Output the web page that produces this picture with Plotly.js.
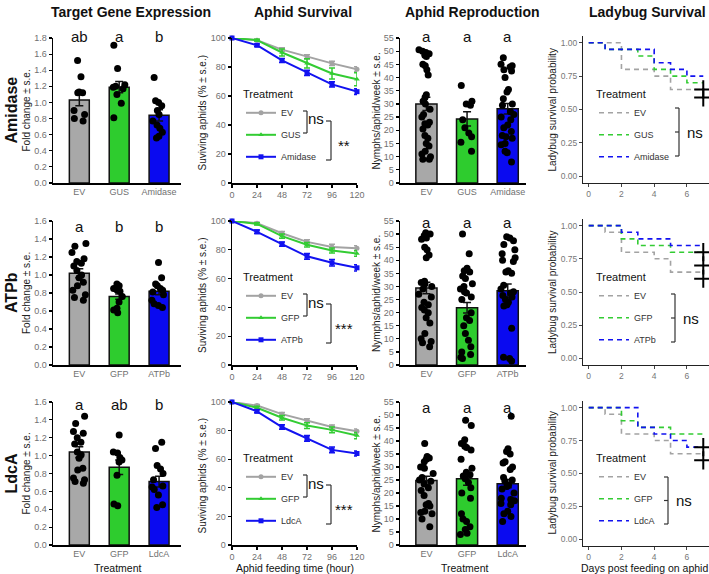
<!DOCTYPE html>
<html>
<head>
<meta charset="utf-8">
<script src="https://cdn.plot.ly/plotly-3.0.1.min.js"></script>
<style>body{margin:0;background:#fff}#vis{width:709px;height:574px}</style>
</head>
<body>
<div id="vis"></div>
<script>
const W = 709, H = 574;
const FONT = 'Liberation Sans, Arial, sans-serif';

// one row per target gene
const genes = ['Amidase', 'ATPb', 'LdcA'];
const cats = [['EV', 'GUS', 'Amidase'], ['EV', 'GFP', 'ATPb'], ['EV', 'GFP', 'LdcA']];
const barColors = ['#a8a8a8', '#2ecc2e', '#0a0af0'];
const lineColors = ['#a3a3a3', '#33cc33', '#1212f0'];

// target gene expression (fold change)
const exprMean = [[1.03, 1.19, 0.84], [1.02, 0.76, 0.82], [1.04, 0.87, 0.71]];
const exprSE = [[0.07, 0.07, 0.07], [0.05, 0.03, 0.04], [0.06, 0.08, 0.06]];
const exprLetters = [['ab', 'a', 'b'], ['a', 'b', 'b'], ['a', 'ab', 'b']];
const exprEV = [
  [1.52, 1.32, 1.13, 1.12, 1.12, 0.90, 0.85, 0.80, 0.77],
  [1.35, 1.32, 1.25, 1.18, 1.15, 1.13, 1.10, 1.05, 1.00, 0.97, 0.92, 0.88, 0.83, 0.78, 0.75, 0.72],
  [1.44, 1.36, 1.27, 1.25, 1.20, 1.15, 1.13, 1.04, 1.01, 0.97, 0.86, 0.84, 0.75, 0.73, 0.71, 0.69]
];
const exprCtrl = [
  [1.71, 1.42, 1.22, 1.20, 1.19, 1.17, 1.10, 0.99, 0.81],
  [0.90, 0.88, 0.85, 0.83, 0.82, 0.76, 0.70, 0.63, 0.61, 0.58],
  [1.23, 1.04, 1.03, 0.98, 0.95, 0.93, 0.78, 0.46, 0.44]
];
const exprGene = [
  [1.31, 1.02, 1.00, 0.96, 0.90, 0.85, 0.77, 0.72, 0.68, 0.63, 0.58, 0.56],
  [1.14, 0.97, 0.90, 0.88, 0.85, 0.83, 0.81, 0.78, 0.72, 0.68, 0.66, 0.64],
  [1.15, 1.08, 0.89, 0.85, 0.80, 0.73, 0.66, 0.65, 0.62, 0.56, 0.45, 0.42]
];

// aphid survival (%)
const hours = [0, 24, 48, 72, 96, 120];
const survEV = [[100, 98.5, 92, 87, 82.5, 78.5], [100, 98.5, 91.5, 85.5, 82, 81], [100, 97.5, 91.5, 87, 82.5, 79.5]];
const survCtrl = [[100, 98.5, 90, 82.5, 75.5, 71.5], [100, 98, 89.5, 83.5, 79.5, 77.5], [100, 96, 89, 83.5, 80.5, 76.5]];
const survGene = [[100, 95, 84.5, 76, 68, 63], [100, 92.5, 84, 75.5, 71, 67.5], [100, 93.5, 82.5, 74.5, 66.5, 64]];
const survEVse = [[0, 0.6, 1.2, 1.4, 1.5, 1.6], [0, 0.6, 1.2, 1.4, 1.8, 1.8], [0, 0.8, 1.2, 1.3, 1.5, 1.6]];
const survCtrlSE = [[0, 0.6, 2.5, 3.2, 3.8, 4.5], [0, 0.8, 1.4, 1.6, 1.8, 2.0], [0, 1.0, 1.5, 2.0, 2.0, 2.2]];
const survGeneSE = [[0, 0.8, 1.4, 1.8, 1.8, 2.0], [0, 1.2, 1.5, 2.0, 2.2, 2.2], [0, 1.0, 1.6, 2.0, 2.0, 1.8]];
const survStars = ['**', '***', '***'];

// aphid reproduction (nymphs/aphid/week)
const reproMean = [[30.0, 24.3, 28.2], [29.4, 21.9, 28.4], [24.8, 25.5, 23.6]];
const reproSE = [[2.5, 2.7, 2.0], [2.2, 2.0, 2.5], [1.6, 2.5, 1.6]];
const reproEV = [
  [50.5, 50, 49.5, 49, 48.5, 48, 45, 44.5, 43, 41, 33.5, 32.5, 31, 30, 28, 26, 25, 23, 22.5, 22, 20.5, 18, 17, 15, 14, 12, 11, 10, 9, 9],
  [50.5, 50, 49.5, 48.5, 48, 45, 44, 42, 41, 32, 31.5, 31, 30, 29, 27, 26, 24, 23, 22, 21, 20, 18, 16, 12, 10, 9, 8.5, 7],
  [39, 34, 33.5, 33, 32, 30, 29.5, 27.5, 26, 25, 24.5, 23.5, 22, 21, 19, 16, 15.5, 15, 13, 12.5, 12, 10, 7]
];
const reproCtrl = [
  [37, 31, 30, 29.5, 24, 21, 19, 17.5, 15.5, 12],
  [50, 42.5, 37, 36, 35.5, 34, 33, 31, 30, 29, 28, 27.5, 26, 25, 20, 18, 17, 15, 12, 9.5, 7, 5, 4, 3, 2.5],
  [48, 46, 40.5, 39, 38, 37.5, 36.5, 33, 29.5, 28, 27, 26.5, 25.5, 24, 22, 20, 18, 12, 10, 9, 7, 6, 4.5, 4]
];
const reproGene = [
  [47.5, 45, 44.5, 44, 43, 42.5, 40, 35.5, 34.5, 32, 30, 29.5, 27, 26, 25, 24, 22, 21, 19.5, 18, 17.5, 17, 15, 14.5, 12, 11.5, 8],
  [49, 48.5, 47.5, 46, 44, 42.5, 41, 40, 39.5, 36, 35.5, 35, 30.5, 29, 28, 27.5, 26.5, 26, 25, 24, 23, 22.5, 14, 3, 2.5, 1.5],
  [49.5, 37, 36, 35, 32, 31.5, 30, 29, 26, 25, 24.5, 23, 22.5, 21.5, 20, 18, 17.5, 17, 16, 15.5, 13, 12, 11, 9]
];

// ladybug survival (Kaplan-Meier steps: day, probability)
const ladyEVday = [[0, 2, 4, 5, 7], [0, 1, 2, 4, 5, 7], [0, 1, 2, 4, 5, 7]];
const ladyEVprob = [[1, 0.8, 0.75, 0.65, 0.65], [1, 0.95, 0.8, 0.75, 0.65, 0.65], [1, 0.95, 0.8, 0.75, 0.65, 0.65]];
const ladyCtrlDay = [[0, 1, 3, 4, 5, 6, 7], [0, 2, 3, 5, 7], [0, 2, 3, 5, 7]];
const ladyCtrlProb = [[1, 0.95, 0.9, 0.8, 0.75, 0.7, 0.7], [1, 0.9, 0.85, 0.8, 0.8], [1, 0.9, 0.85, 0.8, 0.8]];
const ladyGeneDay = [[0, 1, 4, 5, 6, 7], [0, 2, 3, 5, 7], [0, 3, 4, 5, 6, 7]];
const ladyGeneProb = [[1, 0.95, 0.85, 0.8, 0.75, 0.75], [1, 0.95, 0.9, 0.85, 0.85], [1, 0.85, 0.8, 0.75, 0.7, 0.7]];
const ladyCensor = [[0.65, 0.59], [0.8, 0.7, 0.6], [0.7, 0.6]];

// page geometry in pixels
const colX = [[53, 181], [232, 357], [400, 526], [583, 709]];
const rowY = [[38, 183], [221, 365], [402, 545]];
const rowY4 = [[36, 183], [219, 365], [401, 546]];
const rowShift = [0, 183, 364];
const px = x => x / W;
const py = y => 1 - y / H;
const sfx = n => (n === 1 ? '' : String(n));

const traces = [];
const layout = {
  width: W, height: H,
  margin: {l: 0, r: 0, t: 0, b: 0},
  paper_bgcolor: '#fff', plot_bgcolor: 'rgba(0,0,0,0)',
  font: {family: FONT, size: 9, color: '#555'},
  showlegend: true,
  annotations: [],
  shapes: []
};

function prismAxis() {
  return {
    showgrid: false, zeroline: false, showline: true, linecolor: '#000', linewidth: 1.5,
    ticks: 'outside', ticklen: 3, tickwidth: 1.2, tickcolor: '#000',
    tickfont: {family: FONT, size: 9, color: '#707070'}, fixedrange: true
  };
}
function ggAxis() {
  return {
    showgrid: false, zeroline: false, showline: true, linecolor: '#222', linewidth: 1,
    ticks: 'outside', ticklen: 3, tickwidth: 1, tickcolor: '#444',
    tickfont: {family: FONT, size: 8.5, color: '#777'}, fixedrange: true
  };
}
function text(t, x, y, size, opts) {
  layout.annotations.push(Object.assign({
    text: t, x: px(x), y: py(y), xref: 'paper', yref: 'paper', showarrow: false,
    xanchor: 'center', yanchor: 'middle', font: {family: FONT, size: size, color: '#111'}
  }, opts || {}));
}
function seg(x0, y0, x1, y1) {
  layout.shapes.push({type: 'line', xref: 'paper', yref: 'paper',
    x0: px(x0), y0: py(y0), x1: px(x1), y1: py(y1), line: {color: '#333', width: 1.2}});
}
function bracket(x, y0, y1, mid) {
  seg(x - 4, y0, x, y0);
  seg(x, y0, x, y1);
  seg(x - 4, y1, x, y1);
  if (mid) seg(x - 4, (y0 + y1) / 2, x, (y0 + y1) / 2);
}
function legendAt(x, y) {
  return {
    x: px(x), y: py(y), xanchor: 'left', yanchor: 'top', bgcolor: 'rgba(0,0,0,0)',
    font: {family: FONT, size: 9, color: '#333'}, itemwidth: 30, tracegroupgap: 3,
    traceorder: 'grouped', title: {text: 'Treatment', font: {family: FONT, size: 11, color: '#111'}}
  };
}
function letters(n, catsRow, labels, yDom) {
  labels.forEach((t, i) => layout.annotations.push({
    text: t, x: catsRow[i], y: yDom, xref: 'x' + sfx(n), yref: 'y' + sfx(n) + ' domain',
    showarrow: false, yanchor: 'middle', font: {family: FONT, size: 15, color: '#111'}
  }));
}

function barPanel(n, catsRow, means, ses, groups, barWidth) {
  traces.push({
    type: 'bar', x: catsRow, y: means, width: barWidth,
    marker: {color: barColors, line: {color: '#111', width: 1.5}},
    error_y: {type: 'data', array: ses, color: '#111', thickness: 1.5, width: 4},
    xaxis: 'x' + sfx(n), yaxis: 'y' + sfx(n), showlegend: false, hoverinfo: 'skip'
  });
  const xs = [], ys = [];
  groups.forEach((g, i) => g.forEach(v => { xs.push(catsRow[i]); ys.push(v); }));
  traces.push({
    type: 'box', x: xs, y: ys, boxpoints: 'all', jitter: 0.8, pointpos: 0,
    fillcolor: 'rgba(0,0,0,0)', line: {width: 0, color: 'rgba(0,0,0,0)'},
    marker: {color: '#000', size: 7}, xaxis: 'x' + sfx(n), yaxis: 'y' + sfx(n),
    showlegend: false, hoverinfo: 'y'
  });
}

const legendIds = [['legend', 'legend2'], ['legend3', 'legend4'], ['legend5', 'legend6']];
const survSymbols = ['circle', 'triangle-up', 'square'];

for (let r = 0; r < 3; r++) {
  const dy = rowShift[r];
  for (let c = 0; c < 4; c++) {
    const n = r * 4 + c + 1;
    const yb = c === 3 ? rowY4[r] : rowY[r];
    const xa = c === 3 ? ggAxis() : prismAxis();
    const ya = c === 3 ? ggAxis() : prismAxis();
    xa.domain = [px(colX[c][0]), px(colX[c][1])];
    ya.domain = [py(yb[1]), py(yb[0])];
    xa.anchor = 'y' + sfx(n);
    ya.anchor = 'x' + sfx(n);
    if (c === 0) {
      xa.type = 'category'; xa.range = [-0.66, 2.55]; xa.ticks = '';
      ya.range = r === 0 ? [0, 1.8] : [0, 1.6]; ya.dtick = 0.2; ya.tickformat = '.1f';
    } else if (c === 1) {
      xa.range = [0, 120]; xa.tickvals = hours;
      ya.range = [0, 100]; ya.dtick = 20;
    } else if (c === 2) {
      xa.type = 'category'; xa.range = [-0.65, 2.45]; xa.ticks = '';
      ya.range = [0, 55]; ya.dtick = 5;
    } else {
      xa.range = [-0.35, 7.35]; xa.tickvals = [0, 2, 4, 6];
      ya.range = [-0.05, 1.05]; ya.tickvals = [0, 0.25, 0.5, 0.75, 1]; ya.tickformat = '.2f';
    }
    layout['xaxis' + sfx(n)] = xa;
    layout['yaxis' + sfx(n)] = ya;
  }

  // column 1: gene expression
  barPanel(r * 4 + 1, cats[r], exprMean[r], exprSE[r], [exprEV[r], exprCtrl[r], exprGene[r]], 0.5);
  letters(r * 4 + 1, cats[r], exprLetters[r], [1.01, 0.96, 0.98][r]);

  // column 2: aphid survival
  const n2 = r * 4 + 2;
  [[survEV[r], survEVse[r]], [survCtrl[r], survCtrlSE[r]], [survGene[r], survGeneSE[r]]].forEach((s, i) => {
    traces.push({
      type: 'scatter', mode: 'lines+markers', x: hours, y: s[0], name: cats[r][i],
      line: {color: lineColors[i], width: 2}, marker: {symbol: survSymbols[i], size: 5, color: lineColors[i]},
      error_y: {type: 'data', array: s[1], color: lineColors[i], thickness: 1.5, width: 3},
      xaxis: 'x' + sfx(n2), yaxis: 'y' + sfx(n2), cliponaxis: false,
      legend: legendIds[r][0], legendgroup: 's' + r + i
    });
  });
  layout[legendIds[r][0]] = legendAt(241, 84 + dy);
  bracket(307, 111 + dy, 133 + dy, false);
  text('ns', 316, 119 + dy, 15);
  seg(326, 121 + dy, 331, 121 + dy);
  seg(331, 121 + dy, 331, 160 + dy);
  seg(326, 160 + dy, 331, 160 + dy);
  text(survStars[r], 344, 145 + dy, 15);

  // column 3: aphid reproduction
  barPanel(r * 4 + 3, cats[r], reproMean[r], reproSE[r], [reproEV[r], reproCtrl[r], reproGene[r]], 0.52);
  letters(r * 4 + 3, cats[r], ['a', 'a', 'a'], [1.01, 0.99, 0.96][r]);

  // column 4: ladybug survival
  const n4 = r * 4 + 4;
  [[ladyEVday[r], ladyEVprob[r]], [ladyCtrlDay[r], ladyCtrlProb[r]], [ladyGeneDay[r], ladyGeneProb[r]]].forEach((s, i) => {
    traces.push({
      type: 'scatter', mode: 'lines', x: s[0], y: s[1], name: cats[r][i],
      line: {color: lineColors[i], width: 1.6, dash: '5px,4px', shape: 'hv'},
      xaxis: 'x' + sfx(n4), yaxis: 'y' + sfx(n4), cliponaxis: false,
      legend: legendIds[r][1], legendgroup: 'l' + r + i
    });
  });
  traces.push({
    type: 'scatter', mode: 'markers', x: ladyCensor[r].map(() => 7), y: ladyCensor[r],
    marker: {symbol: 'cross-thin-open', size: 13, color: '#000', line: {color: '#000', width: 2}},
    xaxis: 'x' + sfx(n4), yaxis: 'y' + sfx(n4), cliponaxis: false, showlegend: false
  });
  layout[legendIds[r][1]] = legendAt(594, 84 + dy);
  const bx = [679, 675, 668][r], by = [[108, 156], [294, 342], [477, 524]][r];
  bracket(bx, by[0], by[1], true);
  text('ns', bx + 16, (by[0] + by[1]) / 2, 15);

  // row label and axis titles
  const yc = (rowY[r][0] + rowY[r][1]) / 2;
  const titleFont = {family: FONT, size: 10, color: '#222'};
  text('<b>' + genes[r] + '</b>', 11, yc, 16, {textangle: -90});
  text('Fold change ± s.e.', 26, yc, 10, {textangle: -90, font: titleFont});
  text('Suviving aphids (% ± s.e.)', 202, yc + 2, 10, {textangle: -90, font: titleFont});
  text('Nymphs/aphid/week ± s.e.', 376, yc, 10, {textangle: -90, font: titleFont});
  text('Ladybug survival probability', 552, yc, 10, {textangle: -90, font: titleFont});
}

// column titles
text('<b>Target Gene Expression</b>', 131, 12, 14);
text('<b>Aphid Survival</b>', 303, 12, 14);
text('<b>Aphid Reproduction</b>', 472, 12, 14);
text('<b>Ladybug Survival</b>', 647, 12, 14);

// bottom axis titles
text('Treatment', 118, 568, 10.5);
text('Aphid feeding time (hour)', 295, 568, 10.5);
text('Treatment', 465, 568, 10.5);
text('Days post feeding on aphid', 644, 568, 10.5);

Plotly.newPlot('vis', traces, layout, {staticPlot: true, displayModeBar: false});
</script>
</body>
</html>
